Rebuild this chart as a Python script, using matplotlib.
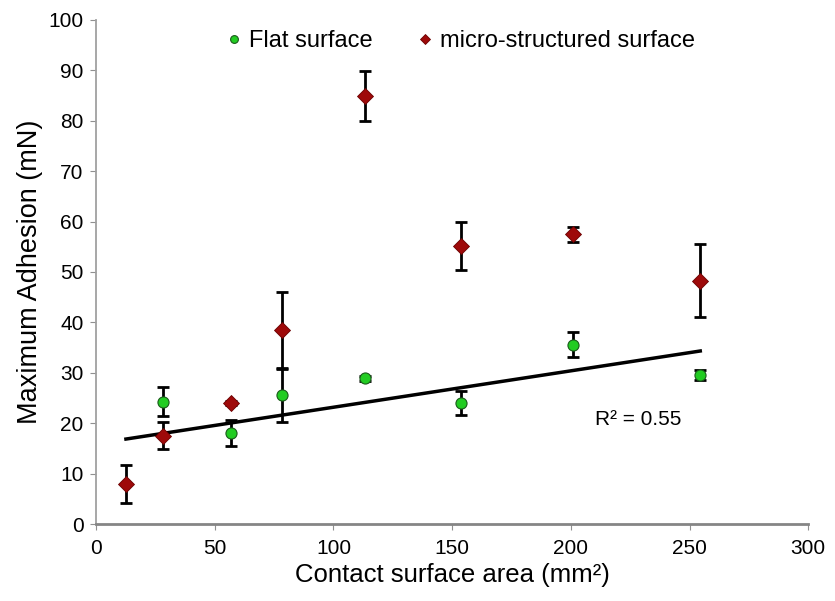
import matplotlib
matplotlib.use("Agg")
import matplotlib.pyplot as plt
import numpy as np

plt.rcParams['font.family'] = ['Liberation Sans', 'DejaVu Sans']

# contact area (mm^2) and adhesion (mN)
flat_x = [28.3, 56.7, 78.5, 113.1, 153.9, 201.1, 254.5]
flat_y = [24.3, 18.1, 25.5, 28.9, 24.0, 35.6, 29.6]
flat_err = [2.9, 2.6, 5.3, 0.5, 2.3, 2.4, 1.0]

micro_x = [12.6, 28.3, 56.7, 78.5, 113.1, 153.9, 201.1, 254.5]
micro_y = [7.9, 17.5, 24.1, 38.5, 84.9, 55.2, 57.5, 48.3]
micro_err = [3.8, 2.7, 0.4, 7.5, 5.0, 4.8, 1.5, 7.3]

# linear trendline shown in the figure
trend_slope = 0.0722
trend_intercept = 15.95
trend_range = [12.6, 254.5]
r2_text = "R² = 0.55"

fig = plt.figure(figsize=(8.35, 6.01), dpi=100)
ax = fig.add_axes([0.115, 0.128, 0.853, 0.839])

tx = np.array(trend_range)
ax.plot(tx, trend_intercept + trend_slope * tx, color='black', lw=2.5,
        zorder=2)

ax.errorbar(flat_x, flat_y, yerr=flat_err, fmt='none', ecolor='black',
            elinewidth=2, capsize=4, capthick=2, zorder=3)
ax.errorbar(micro_x, micro_y, yerr=micro_err, fmt='none', ecolor='black',
            elinewidth=2, capsize=4, capthick=2, zorder=3)

ax.plot(flat_x, flat_y, 'o', color='#22cc22', mec='#1a5a1a', mew=0.8,
        ms=8, ls='none', label='Flat surface', zorder=4)
ax.plot(micro_x, micro_y, 'D', color='#9e0a0a', mec='#6a0000', mew=0.6,
        ms=8, ls='none', label='micro-structured surface', zorder=4)

ax.text(210, 19.6, r2_text, fontsize=15)

ax.set_xlim(0, 300)
ax.set_ylim(0, 100)
ax.set_xticks(range(0, 301, 50))
ax.set_yticks(range(0, 101, 10))
ax.tick_params(labelsize=15, direction='out', length=4, color='#909090')
ax.tick_params(axis='x', pad=7)
ax.tick_params(axis='y', pad=5)
for s in ['top', 'right']:
    ax.spines[s].set_visible(False)
ax.spines['left'].set_color('#a0a0a0')
ax.spines['left'].set_linewidth(1.3)
ax.spines['bottom'].set_color('#858585')
ax.spines['bottom'].set_linewidth(2)

ax.set_xlabel('Contact surface area (mm²)', fontsize=18.5, labelpad=3)
ax.set_ylabel('Maximum Adhesion (mN)', fontsize=19.5, labelpad=4)

ax.legend(loc='upper center', bbox_to_anchor=(0.507, 1.021), ncol=2,
          frameon=False, fontsize=17, handletextpad=0.05,
          columnspacing=1.6, markerscale=0.7, handlelength=1.2)

fig.savefig('out.png', dpi=100)
